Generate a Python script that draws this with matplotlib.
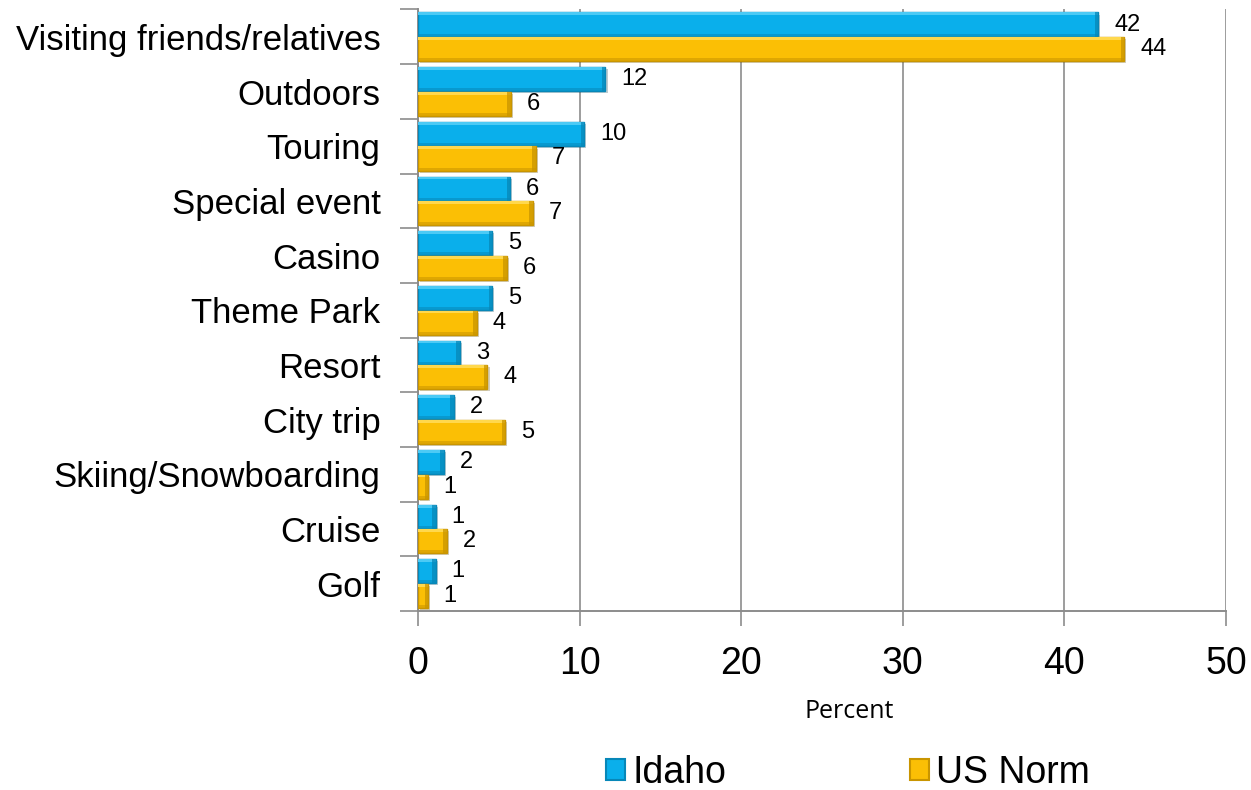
import matplotlib
matplotlib.use("Agg")
import matplotlib.pyplot as plt
import matplotlib.patches as mpatches
import matplotlib.patheffects as pe
import numpy as np

categories = ["Visiting friends/relatives", "Outdoors", "Touring", "Special event",
              "Casino", "Theme Park", "Resort", "City trip",
              "Skiing/Snowboarding", "Cruise", "Golf"]
idaho = [42.1, 11.6, 10.3, 5.7, 4.6, 4.6, 2.6, 2.2, 1.6, 1.1, 1.1]
us_norm = [43.7, 5.75, 7.3, 7.1, 5.5, 3.65, 4.3, 5.4, 0.6, 1.8, 0.6]
series_names = ["Idaho", "US Norm"]
xticks = [0, 10, 20, 30, 40, 50]

BLUE, BLUE_DARK, BLUE_LIGHT = "#0AAFEB", "#0787B8", "#4CCAF5"
GOLD, GOLD_DARK, GOLD_LIGHT = "#FBBF05", "#C99500", "#FFD84D"
GRID = "#8C8C8C"

fig = plt.figure(figsize=(12.51, 7.90), dpi=100)
ax = fig.add_axes([0.3341, 0.2266, 0.6459, 0.7614])

y = np.arange(len(categories))
h = 0.44
off = 0.225


def bevel_bars(values, pos, face, dark, light):
    bars = ax.barh(pos, values, height=h, color=face, edgecolor=dark, linewidth=1.0,
                   zorder=3,
                   path_effects=[pe.SimplePatchShadow(offset=(1.5, -1.5), alpha=0.25),
                                 pe.Normal()])
    for b in bars:
        x0, y0, w, hh = b.get_x(), b.get_y(), b.get_width(), b.get_height()
        # light strip along the top edge
        ax.add_patch(mpatches.Rectangle((x0, y0), w, hh * 0.12, facecolor=light,
                                        edgecolor="none", zorder=4))
        # dark cap on the bar end
        cap = min(0.22, w * 0.3)
        ax.add_patch(mpatches.Rectangle((x0 + w - cap, y0), cap, hh, facecolor=dark,
                                        edgecolor="none", alpha=0.75, zorder=4))
        # darker strip along the bottom edge
        ax.add_patch(mpatches.Rectangle((x0, y0 + hh * 0.88), w, hh * 0.12,
                                        facecolor=dark, edgecolor="none", alpha=0.55,
                                        zorder=4))
    return bars


b1 = bevel_bars(idaho, y - off, BLUE, BLUE_DARK, BLUE_LIGHT)
b2 = bevel_bars(us_norm, y + off, GOLD, GOLD_DARK, GOLD_LIGHT)

for bars, vals in ((b1, idaho), (b2, us_norm)):
    for b, v in zip(bars, vals):
        ax.annotate(f"{v:.0f}", xy=(b.get_width(), b.get_y() + b.get_height() / 2),
                    xytext=(11.5, 0), textcoords="offset points",
                    ha="left", va="center", fontsize=17,
                    family="Liberation Sans", color="black", zorder=5)

ax.set_xlim(0, 50)
ax.set_ylim(len(categories) - 0.5, -0.5)

# category boundaries as major ticks, names on minor ticks
ax.set_yticks(np.arange(len(categories) + 1) - 0.5)
ax.set_yticklabels([])
ax.set_yticks(y, minor=True)
ax.set_yticklabels(categories, minor=True, fontsize=25, family="Liberation Sans")
ax.tick_params(axis="y", which="major", length=13, width=1.2, color=GRID, direction="out")
ax.tick_params(axis="y", which="minor", length=0, pad=27)

ax.set_xticks(xticks)
ax.set_xticklabels([str(t) for t in xticks], fontsize=27, family="Liberation Sans")
ax.tick_params(axis="x", length=11, width=1.2, color=GRID, direction="out", pad=14)

ax.grid(axis="x", color=GRID, linewidth=1.2, zorder=0)
ax.set_axisbelow(True)
for s in ("top", "right"):
    ax.spines[s].set_visible(False)
for s in ("left", "bottom"):
    ax.spines[s].set_color(GRID)
    ax.spines[s].set_linewidth(1.4)

fig.text(849 / 1251, 1 - 711 / 790, "Percent", fontsize=18, family="Open Sans",
         ha="center", va="center")

handles = [mpatches.Patch(facecolor=BLUE, edgecolor=BLUE_DARK, linewidth=1.5),
           mpatches.Patch(facecolor=GOLD, edgecolor=GOLD_DARK, linewidth=1.5)]
fig.legend(handles, series_names, loc="center", bbox_to_anchor=(848 / 1251, 1 - 773 / 790),
           ncol=2, frameon=False, prop={"family": "Liberation Sans", "size": 27},
           handlelength=0.5, handleheight=0.5, handletextpad=0.2, columnspacing=4.9,
           borderaxespad=0)

fig.savefig("out.png", dpi=100, facecolor="white")
